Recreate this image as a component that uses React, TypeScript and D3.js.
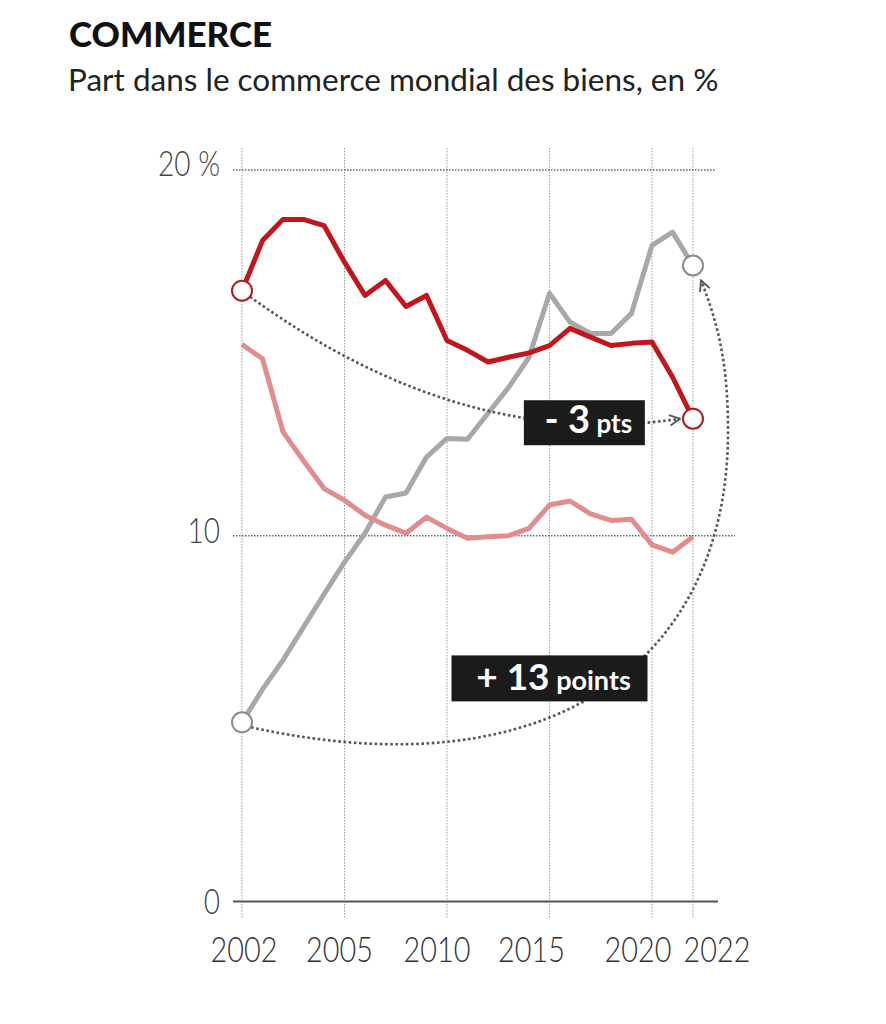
import * as d3 from 'd3';

// années 2000 → 2022 (le premier repère est libellé « 2002 » sur l'original)
const years = [
  2000, 2001, 2002, 2003, 2004, 2005, 2006, 2007, 2008, 2009, 2010, 2011,
  2012, 2013, 2014, 2015, 2016, 2017, 2018, 2019, 2020, 2021, 2022,
];

const redShare = [
  16.7, 18.07, 18.65, 18.65, 18.48, 17.48, 16.57, 16.98, 16.27, 16.57, 15.34, 15.07,
  14.75, 14.88, 15.0, 15.2, 15.67, 15.43, 15.2, 15.26, 15.3, 14.34, 13.2,
];

const pinkShare = [
  15.23, 14.84, 12.84, 12.05, 11.29, 10.97, 10.56, 10.29, 10.07, 10.51, 10.2, 9.93,
  9.97, 10.0, 10.2, 10.84, 10.95, 10.6, 10.42, 10.45, 9.75, 9.55, 9.97,
];

const grayShare = [
  4.9, 5.8, 6.6, 7.5, 8.4, 9.28, 10.07, 11.06, 11.17, 12.15, 12.66, 12.64,
  13.35, 14.05, 14.88, 16.63, 15.84, 15.53, 15.53, 16.08, 17.94, 18.3, 17.39,
];

const xTickValues = [2000, 2005, 2010, 2015, 2020, 2022];
const xTickLabels = ['2002', '2005', '2010', '2015', '2020', '2022'];
const yTickValues = [0, 10, 20];
const yTickLabels = ['0', '10', '20 %'];

// décalages des libellés d'abscisse (mise en page de l'original)
const xLabelNudge = [2, -5, -10, -18, -14, 24];
const yLabelDy = [12, 7, 6];

const W = 886;
const H = 1024;
const FONT = 'Lato, "Open Sans", sans-serif';

export default function App() {
  const x = d3.scaleLinear().domain([2000, 2022]).range([242, 693]);
  const y = d3.scaleLinear().domain([0, 20]).range([901.5, 170]);

  const line = d3
    .line<number>()
    .x((_, i) => x(years[i]))
    .y((d) => y(d));

  const last = years.length - 1;

  // flèche rouge : du cercle 2000 au cercle 2022
  const r0: [number, number] = [x(2000) + 8, y(redShare[0]) + 6];
  const r1: [number, number] = [x(2022) - 13, y(redShare[last])];
  const rc: [number, number] = [x(2010.8), y(12.3)];
  const redArrow = d3.path();
  redArrow.moveTo(r0[0], r0[1]);
  redArrow.quadraticCurveTo(rc[0], rc[1], r1[0], r1[1]);

  // flèche grise : grand arc du cercle 2000 au cercle 2022, passant à droite du graphique
  const g0: [number, number] = [x(2000) + 9, y(grayShare[0]) + 5];
  const g1: [number, number] = [x(2022) + 8, y(grayShare[last]) + 15];
  const gr: [number, number] = [x(2022) + 35, y(12.85)];
  const grayArrow = d3.path();
  grayArrow.moveTo(g0[0], g0[1]);
  grayArrow.bezierCurveTo(g0[0] + 300, g0[1] + 66, gr[0], gr[1] + 230, gr[0], gr[1]);
  grayArrow.bezierCurveTo(gr[0], gr[1] - 60, g1[0] + 20, g1[1] + 50, g1[0], g1[1]);

  const minusBox = { cx: x(2016.7), cy: y(13.09), w: 121, h: 45 };
  const plusBox = { cx: x(2015), cy: y(6.1), w: 196, h: 46 };

  return (
    <div style={{ position: 'absolute', left: 0, top: 0 }}>
      <svg width={W} height={H} style={{ display: 'block', background: '#fff' }}>
        <defs>
          <marker
            id="chev"
            viewBox="0 0 10 10"
            refX={9}
            refY={5}
            markerWidth={13}
            markerHeight={13}
            markerUnits="userSpaceOnUse"
            orient="auto"
          >
            <path d="M1,1 L9,5 L1,9" fill="none" stroke="#555" strokeWidth={1.4} />
          </marker>
        </defs>

        <text x={69} y={47} fontFamily={FONT} fontWeight={900} fontSize={35} fill="#111">
          COMMERCE
        </text>
        <text x={68} y={91} fontFamily={FONT} fontSize={31.5} fill="#222">
          Part dans le commerce mondial des biens, en %
        </text>

        {/* grille verticale */}
        {xTickValues.map((v) => (
          <line
            key={'vx' + v}
            x1={x(v)}
            x2={x(v)}
            y1={148}
            y2={918}
            stroke="#9a9a9a"
            strokeWidth={1}
            strokeDasharray="1.5,1.5"
          />
        ))}

        {/* grille horizontale */}
        <line x1={233} x2={716} y1={y(20)} y2={y(20)} stroke="#666" strokeWidth={1.3} strokeDasharray="1.5,1.5" />
        <line x1={233} x2={735} y1={y(10)} y2={y(10)} stroke="#666" strokeWidth={1.3} strokeDasharray="1.5,1.5" />
        <line x1={233} x2={718} y1={y(0)} y2={y(0)} stroke="#555" strokeWidth={2} />

        {yTickValues.map((v, i) => (
          <g key={'yt' + v} transform={`translate(220,${y(v) + yLabelDy[i]}) scale(0.8,1)`}>
            <text textAnchor="end" fontFamily={FONT} fontWeight={300} fontSize={35} fill="#444">
              {yTickLabels[i]}
            </text>
          </g>
        ))}

        {xTickValues.map((v, i) => (
          <g key={'xt' + v} transform={`translate(${x(v) + xLabelNudge[i]},962) scale(0.8,1)`}>
            <text textAnchor="middle" fontFamily={FONT} fontWeight={300} fontSize={36} fill="#333">
              {xTickLabels[i]}
            </text>
          </g>
        ))}

        {/* séries */}
        <path d={line(grayShare) ?? ''} fill="none" stroke="#a8a8a8" strokeWidth={5} strokeLinejoin="round" />
        <path d={line(pinkShare) ?? ''} fill="none" stroke="#e28d8d" strokeWidth={5} strokeLinejoin="round" />
        <path d={line(redShare) ?? ''} fill="none" stroke="#c0161c" strokeWidth={5} strokeLinejoin="round" />

        {/* flèches pointillées */}
        <path
          d={redArrow.toString()}
          fill="none"
          stroke="#555"
          strokeWidth={2.6}
          strokeDasharray="2.6,2.6"
          markerEnd="url(#chev)"
        />
        <path
          d={grayArrow.toString()}
          fill="none"
          stroke="#555"
          strokeWidth={2.6}
          strokeDasharray="2.6,2.6"
          markerEnd="url(#chev)"
        />

        {/* cercles */}
        <circle cx={x(2000)} cy={y(redShare[0])} r={10} fill="#fff" stroke="#b01c22" strokeWidth={2} />
        <circle cx={x(2022)} cy={y(redShare[last])} r={10} fill="#fff" stroke="#b01c22" strokeWidth={2} />
        <circle cx={x(2000)} cy={y(grayShare[0])} r={10} fill="#fff" stroke="#8a8a8a" strokeWidth={2} />
        <circle cx={x(2022)} cy={y(grayShare[last])} r={10} fill="#fff" stroke="#8a8a8a" strokeWidth={2} />

        {/* étiquettes */}
        <rect
          x={minusBox.cx - minusBox.w / 2}
          y={minusBox.cy - minusBox.h / 2}
          width={minusBox.w}
          height={minusBox.h}
          fill="#1b1b1b"
        />
        <text
          x={minusBox.cx + 4}
          y={minusBox.cy + 10}
          textAnchor="middle"
          fontFamily={FONT}
          fontWeight={700}
          fill="#fff"
        >
          <tspan fontSize={38}>- 3</tspan>
          <tspan fontSize={26}> pts</tspan>
        </text>

        <rect
          x={plusBox.cx - plusBox.w / 2}
          y={plusBox.cy - plusBox.h / 2}
          width={plusBox.w}
          height={plusBox.h}
          fill="#1b1b1b"
        />
        <text
          x={plusBox.cx + 4}
          y={plusBox.cy + 12}
          textAnchor="middle"
          fontFamily={FONT}
          fontWeight={700}
          fill="#fff"
        >
          <tspan fontSize={37}>+ 13</tspan>
          <tspan fontSize={27}> points</tspan>
        </text>
      </svg>
    </div>
  );
}
